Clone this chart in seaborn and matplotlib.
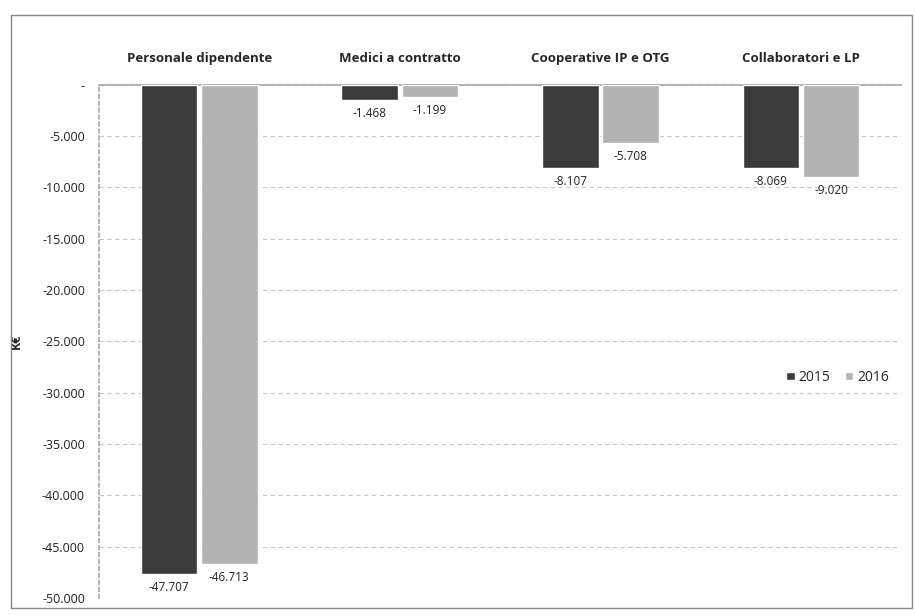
import numpy as np
import pandas as pd
import seaborn as sns
import matplotlib.pyplot as plt
from matplotlib.ticker import FuncFormatter

categories = ["Personale dipendente", "Medici a contratto", "Cooperative IP e OTG", "Collaboratori e LP"]
values_2015 = [-47707, -1468, -8107, -8069]
values_2016 = [-46713, -1199, -5708, -9020]
years = ["2015", "2016"]

df = pd.DataFrame({
    "categoria": categories * 2,
    "anno": [years[0]] * 4 + [years[1]] * 4,
    "valore": values_2015 + values_2016,
})

sns.set_theme(style="white")
plt.rcParams["font.family"] = ["Open Sans", "DejaVu Sans"]

fig = plt.figure(figsize=(9.15, 6.14), dpi=100)
ax = fig.add_axes([0.108, 0.026, 0.877, 0.836])

sns.barplot(data=df, x="categoria", y="valore", hue="anno",
            palette=["#3b3b3b", "#b3b3b3"], width=0.6, gap=0.06,
            saturation=1, ax=ax, zorder=3)

def fmt(v, pos=None):
    if v == 0:
        return "-"
    return "{:,.0f}".format(v).replace(",", ".")

for cont in ax.containers:
    ax.bar_label(cont, labels=[fmt(b.get_height()) for b in cont],
                 padding=5, fontsize=8.5, color="#222222")

ax.set_ylim(-50000, 0)
ax.set_xlim(-0.5, 3.5)
ax.set_yticks(np.arange(-50000, 1, 5000))
ax.yaxis.set_major_formatter(FuncFormatter(fmt))
ax.yaxis.grid(True, linestyle=(0, (4, 3)), color="#c8c8c8", linewidth=0.8, zorder=0)
ax.tick_params(axis="y", labelsize=9, length=0, pad=10, labelcolor="#222222")

ax.xaxis.tick_top()
ax.tick_params(axis="x", length=0, pad=14, labelsize=9.5)
for lbl in ax.get_xticklabels():
    lbl.set_fontweight("bold")
ax.set_xlabel("")
ax.set_ylabel("K€", fontsize=9, fontweight="bold", labelpad=14)

for side in ["right", "bottom"]:
    ax.spines[side].set_visible(False)
ax.spines["top"].set_color("#aaaaaa")
ax.spines["left"].set_color("#aaaaaa")
ax.spines["left"].set_linestyle((0, (2, 2)))

ax.legend(loc="center right", bbox_to_anchor=(1.0, 0.43), ncol=2, frameon=False,
          fontsize=10, handlelength=0.6, handleheight=0.6, handletextpad=0.3,
          columnspacing=1.0)

fig.patches.append(plt.Rectangle((0.012, 0.01), 0.985, 0.965, transform=fig.transFigure,
                                 fill=False, edgecolor="#888888", linewidth=1))

fig.savefig("out.png", dpi=100)
